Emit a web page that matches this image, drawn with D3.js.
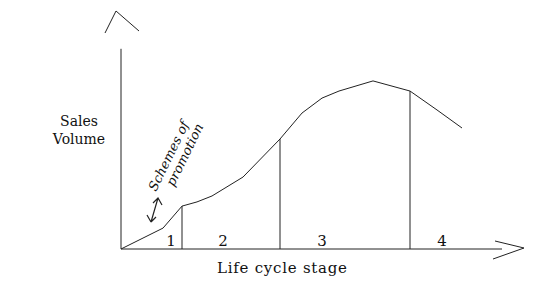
<!DOCTYPE html>
<html>
<head>
<meta charset="utf-8">
<script src="https://cdn.jsdelivr.net/npm/d3@7"></script>
<style>
  body { margin: 0; background: #fff; }
  svg text { font-family: "DejaVu Serif", "Liberation Serif", serif; fill: #111; }
</style>
</head>
<body>
<svg id="chart" width="539" height="297"></svg>
<script>
// Sales curve over the life cycle (time units 0-100, sales units 0-100)
var timePoints  = [0, 10.5, 15.25, 19, 22.75, 30.5, 39.75, 45.25, 50.25, 54.5, 63, 72.25, 79, 85.25];
var salesPoints = [0, 9.5, 19.5, 21.4, 24.1, 32.7, 50, 61.8, 68.6, 71.8, 76.4, 71.8, 63.2, 55];

// stage boundaries and labels
var stageBounds = [15.25, 39.75, 72.25];
var stageLabels = ["1", "2", "3", "4"];
var stageLabelX = [12.5, 25.5, 50.25, 80.25];

var xTitle = "Life cycle stage";
var yTitle = ["Sales", "Volume"];
var note = ["Schemes of", "promotion"];

var svg = d3.select("#chart");

var x = d3.scaleLinear().domain([0, 100]).range([121, 521]);
var y = d3.scaleLinear().domain([0, 100]).range([249, 29]);

var ink = "#222";

// axes drawn by hand (no ticks)
svg.append("line")
   .attr("x1", x(0)).attr("y1", y(0))
   .attr("x2", x(0)).attr("y2", y(91))
   .attr("stroke", ink).attr("stroke-width", 1);
svg.append("line")
   .attr("x1", x(0)).attr("y1", y(0))
   .attr("x2", x(95.25)).attr("y2", y(0))
   .attr("stroke", ink).attr("stroke-width", 1);

// open arrow heads
svg.append("path")
   .attr("d", "M105,33 L116,11 L139,31")
   .attr("fill", "none").attr("stroke", ink).attr("stroke-width", 1);
svg.append("path")
   .attr("d", "M495,241 L524,248 L493,259")
   .attr("fill", "none").attr("stroke", ink).attr("stroke-width", 1);

// the curve
var pts = timePoints.map(function(t, i){ return [t, salesPoints[i]]; });
var line = d3.line()
   .x(function(d){ return x(d[0]); })
   .y(function(d){ return y(d[1]); });

svg.append("path")
   .attr("d", line(pts))
   .attr("fill", "none")
   .attr("stroke", ink)
   .attr("stroke-width", 1);

// stage divider lines, up to the curve
var salesAt = d3.scaleLinear().domain(timePoints).range(salesPoints);
svg.selectAll(".divider")
   .data(stageBounds)
   .enter().append("line")
      .attr("x1", function(d){ return x(d); })
      .attr("x2", function(d){ return x(d); })
      .attr("y1", y(0))
      .attr("y2", function(d){ return y(salesAt(d)); })
      .attr("stroke", ink)
      .attr("stroke-width", 1);

// stage numbers
svg.selectAll(".stage")
   .data(stageLabels)
   .enter().append("text")
      .attr("x", function(d, i){ return x(stageLabelX[i]); })
      .attr("y", 246)
      .attr("text-anchor", "middle")
      .style("font-size", "15px")
      .text(function(d){ return d; });

// titles
svg.append("text")
   .attr("x", 282).attr("y", 273)
   .attr("text-anchor", "middle")
   .style("font-size", "15px")
   .attr("textLength", 130)
   .text(xTitle);

svg.selectAll(".ytitle")
   .data(yTitle)
   .enter().append("text")
      .attr("x", 79)
      .attr("y", function(d, i){ return 126 + i * 18; })
      .attr("text-anchor", "middle")
      .style("font-size", "14px")
      .text(function(d){ return d; });

// handwritten note with a double arrow
var g = svg.append("g").attr("transform", "translate(156,192) rotate(-64)");
g.selectAll("text")
   .data(note)
   .enter().append("text")
      .attr("x", function(d, i){ return i * 12; })
      .attr("y", function(d, i){ return i * 14; })
      .style("font-size", "13px")
      .style("font-style", "italic")
      .text(function(d){ return d; });

svg.append("path")
   .attr("d", "M151,222 L158,198 M153,203 L158,198 L162,205 M151,222 L147,215 M151,222 L156,217")
   .attr("fill", "none").attr("stroke", ink).attr("stroke-width", 1.2);
</script>
</body>
</html>
